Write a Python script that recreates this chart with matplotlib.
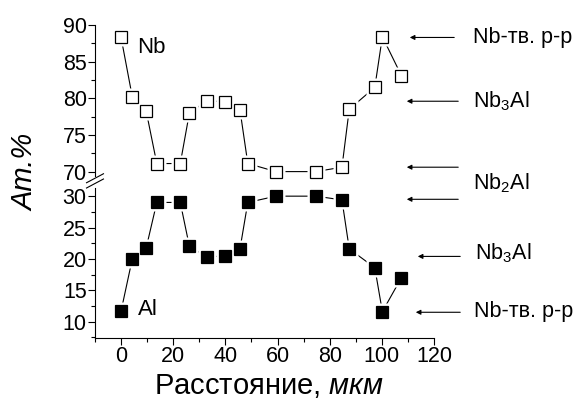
import matplotlib
matplotlib.use("Agg")
import matplotlib.pyplot as plt
from matplotlib.ticker import MultipleLocator

plt.rcParams['font.family'] = ['Liberation Sans', 'DejaVu Sans']
plt.rcParams['mathtext.fontset'] = 'custom'
plt.rcParams['mathtext.rm'] = 'Liberation Sans'
plt.rcParams['mathtext.it'] = 'Liberation Sans:italic'

# Расстояние, мкм
distance = [0, 4.3, 9.6, 13.7, 22.7, 26.2, 33.0, 39.8, 45.6, 48.6, 59.4,
            74.7, 84.7, 87.5, 97.3, 100.2, 107.5]
nb = [88.3, 80.2, 78.3, 71.1, 71.1, 78.0, 79.7, 79.5, 78.4, 71.1, 70.0,
      70.0, 70.6, 78.5, 81.5, 88.4, 83.1]
al = [11.7, 20.0, 21.7, 29.0, 29.0, 22.0, 20.3, 20.5, 21.6, 29.0, 30.0,
      30.0, 29.4, 21.6, 18.6, 11.6, 17.0]

# фазы справа: (подпись, уровень стрелки)
phases_top = [("Nb-тв. р-р", 88.3), ("Nb$_3$Al", 79.6), (None, 70.6)]
phases_bottom = [(None, 29.5), ("Nb$_3$Al", 20.4), ("Nb-тв. р-р", 11.5)]

W, H = 574, 405
fig = plt.figure(figsize=(W / 100, H / 100), dpi=100)

def box(x0, y0, x1, y1):
    # пиксели (сверху) -> доли фигуры
    return [x0 / W, 1 - y1 / H, (x1 - x0) / W, (y1 - y0) / H]

ax_top = fig.add_axes(box(95, 25, 434, 176))
ax_bot = fig.add_axes(box(95, 188, 434, 338))

def draw(ax, y, filled):
    ax.plot(distance, y, color='black', lw=0.8, zorder=1, clip_on=False)
    ax.plot(distance, y, ls='none', marker='s', ms=13, mfc='white', mec='none',
            zorder=2, clip_on=False)
    ax.plot(distance, y, ls='none', marker='s', ms=8.8,
            mfc='black' if filled else 'white', mec='black', mew=0.9,
            zorder=3, clip_on=False)

draw(ax_top, nb, False)
draw(ax_bot, al, True)

for ax in (ax_top, ax_bot):
    ax.set_xlim(-10, 120)
    for s in ('top', 'right'):
        ax.spines[s].set_visible(False)
    ax.yaxis.set_major_locator(MultipleLocator(5))
    ax.yaxis.set_minor_locator(MultipleLocator(2.5))
    ax.tick_params(axis='both', which='major', direction='out', length=5,
                   width=0.8, labelsize=15.5, pad=1)
    ax.tick_params(axis='both', which='minor', direction='out', length=3,
                   width=0.8)

ax_top.set_ylim(69.4, 90)
ax_top.spines['bottom'].set_visible(False)
ax_top.tick_params(axis='x', which='both', bottom=False, labelbottom=False)

ax_bot.set_ylim(7.4, 31.3)
ax_bot.xaxis.set_major_locator(MultipleLocator(20))
ax_bot.xaxis.set_minor_locator(MultipleLocator(10))

ax_top.text(6.3, 86.9, "Nb", fontsize=16, va='center')
ax_bot.text(6.3, 11.9, "Al", fontsize=16, va='center')

# разрыв оси
for yy in (0.0, 0.035):
    ax_bot.plot([-0.025, 0.025], [1.0 + yy, 1.06 + yy], color='black', lw=0.8,
                transform=ax_bot.transAxes, clip_on=False)

# стрелки и подписи фаз
def px(x):
    return (x - 95) / (434 - 95)

arrow = dict(arrowstyle='-|>', color='black', lw=0.8, mutation_scale=7)
for (label, lvl), (tail, head) in zip(phases_top, [(457, 407), (461, 404), (461, 404)]):
    ax_top.annotate("", xy=(px(head), lvl), xytext=(px(tail), lvl),
                    xycoords=('axes fraction', 'data'),
                    textcoords=('axes fraction', 'data'), arrowprops=arrow)
for (label, lvl), (tail, head) in zip(phases_bottom, [(461, 404), (463, 415), (463, 413)]):
    ax_bot.annotate("", xy=(px(head), lvl), xytext=(px(tail), lvl),
                    xycoords=('axes fraction', 'data'),
                    textcoords=('axes fraction', 'data'), arrowprops=arrow)

fig.text(473 / W, 1 - 37 / H, "Nb-тв. р-р", fontsize=15.5, va='center')
fig.text(473 / W, 1 - 101 / H, "Nb$_3$Al", fontsize=15.5, va='center')
fig.text(473 / W, 1 - 183 / H, "Nb$_2$Al", fontsize=15.5, va='center')
fig.text(475 / W, 1 - 253 / H, "Nb$_3$Al", fontsize=15.5, va='center')
fig.text(474 / W, 1 - 311 / H, "Nb-тв. р-р", fontsize=15.5, va='center')

fig.text(269 / W, 1 - 386 / H, "Расстояние, $\\mathit{мкм}$", fontsize=21,
         ha='center', va='center')
fig.text(25 / W, 1 - 172 / H, "Ат.%", fontsize=21, style='italic',
         rotation=90, ha='center', va='center')

fig.savefig("out.png", dpi=100)
